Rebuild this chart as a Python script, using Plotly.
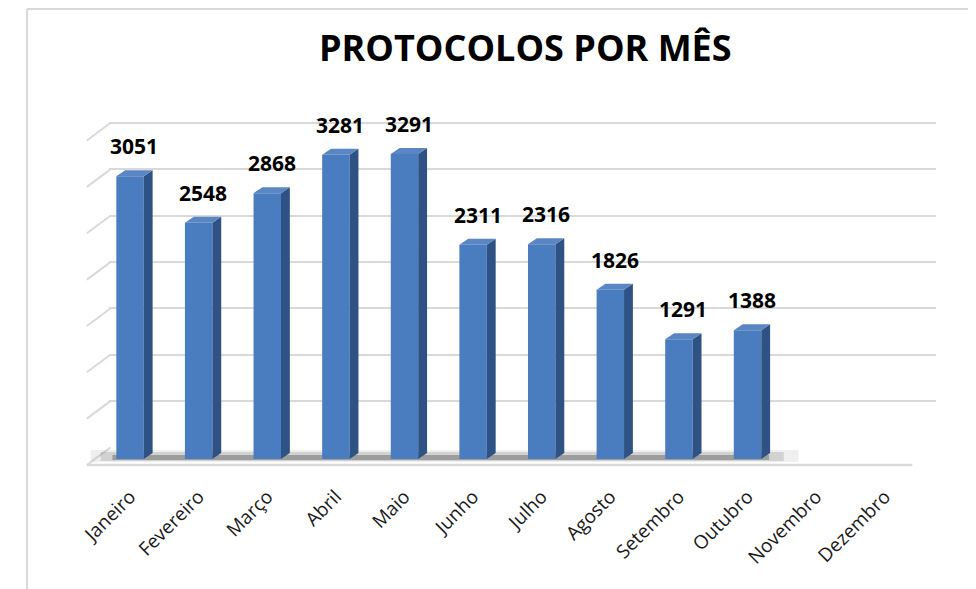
import plotly.graph_objects as go

# ---- data ----
months = ["Janeiro", "Fevereiro", "Março", "Abril", "Maio", "Junho", "Julho",
          "Agosto", "Setembro", "Outubro", "Novembro", "Dezembro"]
protocolos = [3051, 2548, 2868, 3281, 3291, 2311, 2316, 1826, 1291, 1388, None, None]
grid_values = [0, 500, 1000, 1500, 2000, 2500, 3000, 3500]
title_text = "PROTOCOLOS POR MÊS"

# ---- layout geometry (pixels of the target picture) ----
W, H = 976, 589
OFF = 8  # page body margin
def fx(p): return (p - OFF) / W
def fy(p): return 1 - (p - OFF) / H

YMAX = 3800
K = 0.0927            # px per unit
FRONT0 = 459          # bar front base
BACK0 = 447.5         # back wall base
BAR_W = 0.4
DX = 0.129            # bar depth in category units
DY = 6 / K            # bar depth in value units

idx = list(range(len(months)))

FRONT = "#4a7cc0"
SIDE = "#2d5283"
TOP = "#5a86c3"
GRID = "#d9d9d9"

fig = go.Figure()

# back wall (subplot 1) - only gridlines
fig.add_trace(go.Scatter(x=[0], y=[0], mode="markers", marker=dict(opacity=0),
                         hoverinfo="skip", showlegend=False, xaxis="x", yaxis="y"))

# bars (subplot 2)
xs_bar = [i for i, v in zip(idx, protocolos) if v is not None]
vs_bar = [v for v in protocolos if v is not None]

fig.add_trace(go.Bar(x=xs_bar, y=vs_bar, width=BAR_W, marker=dict(color=FRONT, line=dict(width=0)),
                     showlegend=False, xaxis="x2", yaxis="y2", hoverinfo="skip"))

side_x, side_y, top_x, top_y = [], [], [], []
for i, v in zip(xs_bar, vs_bar):
    r = i + BAR_W / 2
    l = i - BAR_W / 2
    side_x += [r, r + DX, r + DX, r, r, None]
    side_y += [0, DY, v + DY, v, 0, None]
    top_x += [l, r, r + DX, l + DX, l, None]
    top_y += [v, v, v + DY, v + DY, v, None]

fig.add_trace(go.Scatter(x=side_x, y=side_y, mode="lines", fill="toself", fillcolor=SIDE,
                         line=dict(width=0, color=SIDE), showlegend=False, hoverinfo="skip",
                         xaxis="x2", yaxis="y2"))
fig.add_trace(go.Scatter(x=top_x, y=top_y, mode="lines", fill="toself", fillcolor=TOP,
                         line=dict(width=0, color=TOP), showlegend=False, hoverinfo="skip",
                         xaxis="x2", yaxis="y2"))

annotations = []
for i, v in zip(xs_bar, vs_bar):
    annotations.append(dict(x=i + DX / 2, y=v + DY, xref="x2", yref="y2", text=f"<b>{v}</b>",
                            showarrow=False, yanchor="bottom", yshift=8,
                            font=dict(family="Open Sans", size=21, color="#000000")))

annotations.append(dict(x=fx(517), y=fy(48), xref="paper", yref="paper", text=f"<b>{title_text}</b>",
                        showarrow=False, xanchor="center", yanchor="middle",
                        font=dict(family="Open Sans", size=36, color="#000000")))

shapes = []
# chart frame (top and left edges)
shapes.append(dict(type="line", xref="paper", yref="paper", x0=fx(9), x1=fx(984), y0=fy(9), y1=fy(9),
                   line=dict(color=GRID, width=2), layer="below"))
shapes.append(dict(type="line", xref="paper", yref="paper", x0=fx(9), x1=fx(9), y0=fy(9), y1=fy(600),
                   line=dict(color=GRID, width=2), layer="below"))
# left side wall diagonals at each gridline
for g in grid_values:
    yb = BACK0 - g * K
    yf = yb + 17.5
    shapes.append(dict(type="line", xref="paper", yref="paper", x0=fx(70), y0=fy(yf), x1=fx(94), y1=fy(yb),
                       line=dict(color=GRID, width=2), layer="below"))
# floor shadow under bars
shapes.append(dict(type="rect", xref="paper", yref="paper", x0=fx(74), x1=fx(795), y0=fy(462), y1=fy(450),
                   fillcolor="rgba(150,150,150,0.15)", line=dict(width=0), layer="below"))
shapes.append(dict(type="rect", xref="paper", yref="paper", x0=fx(84), x1=fx(780), y0=fy(461), y1=fy(452),
                   fillcolor="rgba(110,110,110,0.22)", line=dict(width=0), layer="below"))
shapes.append(dict(type="rect", xref="paper", yref="paper", x0=fx(96), x1=fx(765), y0=fy(460), y1=fy(455),
                   fillcolor="rgba(60,60,60,0.35)", line=dict(width=0), layer="below"))
# floor front edge
shapes.append(dict(type="line", xref="paper", yref="paper", x0=fx(70), x1=fx(911), y0=fy(465), y1=fy(465),
                   line=dict(color=GRID, width=2.5), layer="below"))

fig.update_layout(
    width=W, height=H,
    margin=dict(l=0, r=0, t=0, b=0),
    paper_bgcolor="white", plot_bgcolor="rgba(0,0,0,0)",
    showlegend=False,
    xaxis=dict(domain=[fx(93), fx(935)], range=[0, 1], visible=False, fixedrange=True),
    yaxis=dict(domain=[fy(BACK0), fy(BACK0 - YMAX * K)], range=[0, YMAX], showgrid=True,
               gridcolor=GRID, gridwidth=2, tickvals=grid_values, showticklabels=False,
               zeroline=False, showline=False, ticks="", anchor="x"),
    xaxis2=dict(domain=[fx(79.05), fx(917.85)], range=[-0.5, 11.5], tickmode="array",
                tickvals=idx, ticktext=months, tickangle=-45, showgrid=False, zeroline=False,
                showline=False, ticks="", ticklabelstandoff=22, anchor="y2",
                tickfont=dict(family="Open Sans", size=19, color="#1a1a1a")),
    yaxis2=dict(domain=[fy(FRONT0), fy(FRONT0 - YMAX * K)], range=[0, YMAX], showgrid=False,
                showticklabels=False, zeroline=False, showline=False, ticks="", anchor="x2"),
    annotations=annotations,
    shapes=shapes,
)

fig.write_html("out.html")
